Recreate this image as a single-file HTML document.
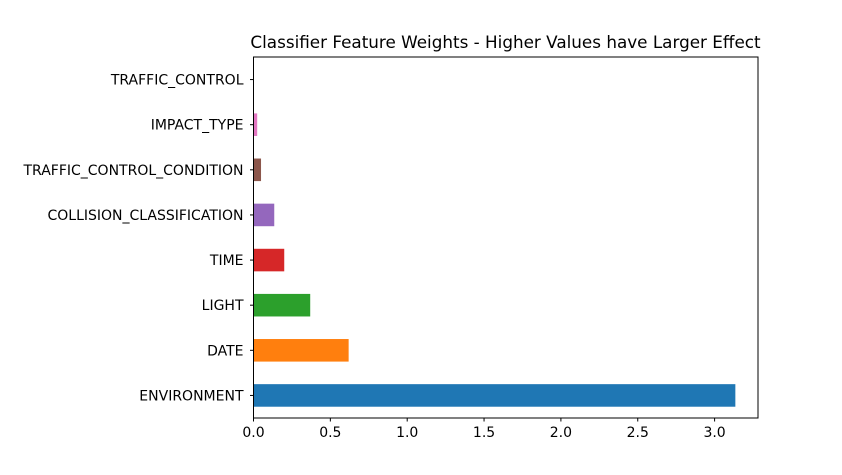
<!DOCTYPE html>
<html><head><meta charset="utf-8"><style>
body{margin:0;background:#fff;font-family:"Liberation Sans","DejaVu Sans",sans-serif;}
svg text{font-family:"DejaVu Sans","Liberation Sans",sans-serif;font-size:14px;fill:#000;}
</style></head><body>
<svg id="chart" width="842" height="470" xmlns="http://www.w3.org/2000/svg">
<text x="505.5" y="48" text-anchor="middle" style="font-size:16.8px">Classifier Feature Weights - Higher Values have Larger Effect</text>
<g id="plot"></g>
</svg>
<script>
const categories=["ENVIRONMENT","DATE","LIGHT","TIME","COLLISION_CLASSIFICATION","TRAFFIC_CONTROL_CONDITION","IMPACT_TYPE","TRAFFIC_CONTROL"];
const weights=[3.135,0.619,0.369,0.2,0.135,0.049,0.024,0.002];
const colors=["#1f77b4","#ff7f0e","#2ca02c","#d62728","#9467bd","#8c564b","#e377c2","#7f7f7f"];
const xTicks=[0,0.5,1,1.5,2,2.5,3];
const xTickLabels=["0.0","0.5","1.0","1.5","2.0","2.5","3.0"];
const L=253.5,R=758,T=57,B=418;
const x=v=>L+v*153.7;
const band=(B-T)/categories.length;
const y=i=>B-band*(i+0.5);
const g=document.getElementById('plot');
const NS="http://www.w3.org/2000/svg";
function mk(t,a){const e=document.createElementNS(NS,t);for(const k in a)e.setAttribute(k,a[k]);g.appendChild(e);return e;}
categories.forEach((c,i)=>{
 const r=mk('rect',{x:L,y:y(i)-band*0.25,width:x(weights[i])-L,height:band*0.5,fill:colors[i]});
 
 
 const tk=mk('line',{x1:L-3.5,x2:L,y1:y(i),y2:y(i),stroke:'#000','stroke-width':1});
 
 
 const t=mk('text',{x:L-10,y:y(i)+5,'text-anchor':'end'});
 t.textContent=c;
 
 
});
xTicks.forEach((v,i)=>{
 const tk=mk('line',{x1:x(v),x2:x(v),y1:B,y2:B+3.5,stroke:'#000','stroke-width':1});
 
 
 const t=mk('text',{x:x(v),y:B+19,'text-anchor':'middle'});
 t.textContent=xTickLabels[i];
 
 
});
const f=mk('rect',{x:L,y:T,width:R-L,height:B-T,fill:'none',stroke:'#000','stroke-width':1});


</script>
</body></html>
